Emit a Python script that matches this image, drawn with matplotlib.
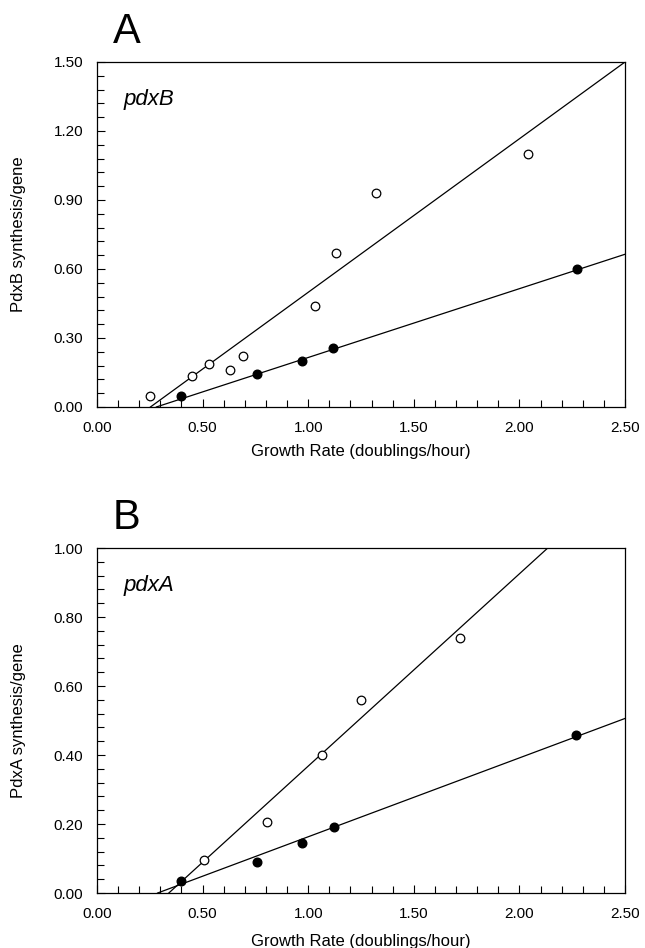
import numpy as np
import matplotlib
matplotlib.use("Agg")
import matplotlib.pyplot as plt
from matplotlib.ticker import MultipleLocator, FormatStrFormatter

plt.rcParams.update({
    "font.family": ["Liberation Sans", "DejaVu Sans"],
    "font.size": 11,
    "xtick.direction": "in",
    "ytick.direction": "in",
})

# Panel A: pdxB
a_open_x = [0.25, 0.45, 0.53, 0.63, 0.69, 1.03, 1.13, 1.32, 2.04]
a_open_y = [0.047, 0.135, 0.186, 0.16, 0.221, 0.44, 0.671, 0.929, 1.099]
a_fill_x = [0.40, 0.758, 0.97, 1.118, 2.271]
a_fill_y = [0.048, 0.142, 0.202, 0.256, 0.601]
a_open_fit_x = [0.253, 2.50]
a_open_fit_y = [0.0, 1.50]
a_fill_fit_x = [0.281, 2.50]
a_fill_fit_y = [0.0, 0.664]

# Panel B: pdxA
b_open_x = [0.505, 0.807, 1.067, 1.248, 1.72]
b_open_y = [0.096, 0.205, 0.40, 0.559, 0.74]
b_fill_x = [0.40, 0.757, 0.969, 1.12, 2.27]
b_fill_y = [0.035, 0.09, 0.144, 0.19, 0.459]
b_open_fit_x = [0.34, 2.134]
b_open_fit_y = [0.0, 1.0]
b_fill_fit_x = [0.287, 2.50]
b_fill_fit_y = [0.0, 0.506]

fig = plt.figure(figsize=(6.45, 9.48), dpi=100)
axA = fig.add_axes([0.1504, 0.5707, 0.8186, 0.3639])
axB = fig.add_axes([0.1504, 0.0580, 0.8186, 0.3639])

panels = [
    (axA, "A", "pdxB", "PdxB synthesis/gene", 1.5, 0.30, 0.06, -0.108,
     a_open_x, a_open_y, a_fill_x, a_fill_y,
     a_open_fit_x, a_open_fit_y, a_fill_fit_x, a_fill_fit_y),
    (axB, "B", "pdxA", "PdxA synthesis/gene", 1.0, 0.20, 0.04, -0.118,
     b_open_x, b_open_y, b_fill_x, b_fill_y,
     b_open_fit_x, b_open_fit_y, b_fill_fit_x, b_fill_fit_y),
]

for (ax, letter, gene, ylabel, ymax, ymaj, ymin, xlab_y,
     ox, oy, fx, fy, ofx, ofy, ffx, ffy) in panels:
    ax.plot(ofx, ofy, color="black", linewidth=0.9)
    ax.plot(ffx, ffy, color="black", linewidth=0.9)
    ax.plot(ox, oy, "o", markersize=6.2, markerfacecolor="white",
            markeredgecolor="black", markeredgewidth=0.9, zorder=3)
    ax.plot(fx, fy, "o", markersize=6.2, markerfacecolor="black",
            markeredgecolor="black", zorder=3)

    ax.set_xlim(0, 2.5)
    ax.set_ylim(0, ymax)
    ax.xaxis.set_major_locator(MultipleLocator(0.5))
    ax.xaxis.set_minor_locator(MultipleLocator(0.1))
    ax.yaxis.set_major_locator(MultipleLocator(ymaj))
    ax.yaxis.set_minor_locator(MultipleLocator(ymin))
    ax.xaxis.set_major_formatter(FormatStrFormatter("%.2f"))
    ax.yaxis.set_major_formatter(FormatStrFormatter("%.2f"))
    ax.tick_params(which="major", length=6, width=0.8, labelsize=11, pad=10)
    ax.tick_params(which="minor", length=5, width=0.8)
    for sp in ax.spines.values():
        sp.set_linewidth(0.9)

    ax.set_xlabel("Growth Rate (doublings/hour)", fontsize=12)
    ax.xaxis.set_label_coords(0.5, xlab_y)
    ax.set_ylabel(ylabel, fontsize=12)
    ax.yaxis.set_label_coords(-0.135, 0.5)

    ax.text(0.05, 0.89, gene, transform=ax.transAxes, fontsize=16,
            style="italic", va="center", ha="left")
    ax.text(0.03, 1.03, letter, transform=ax.transAxes, fontsize=30,
            va="bottom", ha="left")

fig.savefig("out.png", dpi=100, facecolor="white")
